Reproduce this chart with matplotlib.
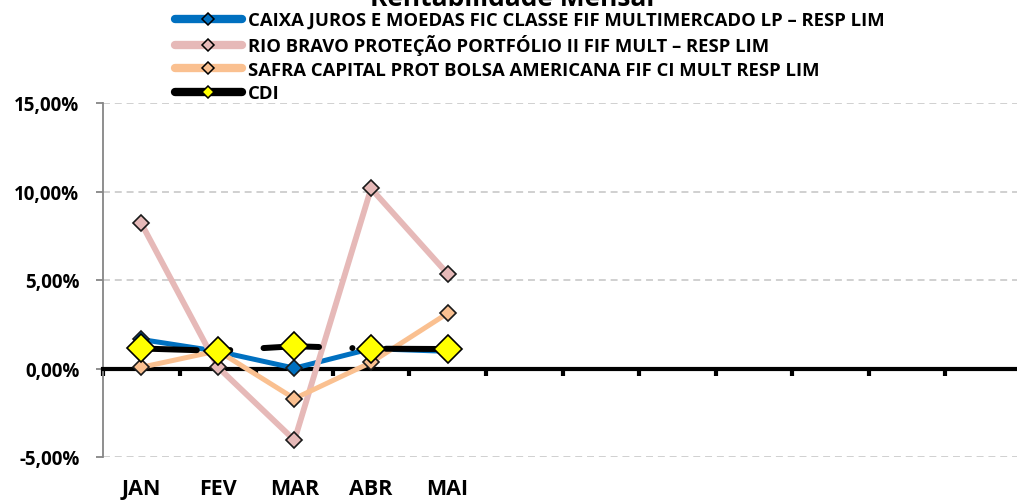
import matplotlib.pyplot as plt
import numpy as np
from matplotlib.lines import Line2D
from matplotlib.ticker import FuncFormatter, MultipleLocator, FixedLocator

plt.rcParams['font.family'] = ['Open Sans', 'DejaVu Sans']
plt.rcParams['font.weight'] = 'bold'
plt.rcParams['lines.scale_dashes'] = False

# dados (rentabilidade mensal, %)
meses = ['JAN', 'FEV', 'MAR', 'ABR', 'MAI', '', '', '', '', '', '', '']
caixa = [1.64, 0.97, 0.02, 1.12, 0.97]
rio_bravo = [8.2, 0.08, -4.05, 10.17, 5.35]
safra = [0.07, 1.0, -1.7, 0.34, 3.12]
cdi = [1.13, 1.0, 1.26, 1.12, 1.10]

nomes = ['CAIXA JUROS E MOEDAS FIC CLASSE FIF MULTIMERCADO LP – RESP LIM',
         'RIO BRAVO PROTEÇÃO PORTFÓLIO II FIF MULT – RESP LIM',
         'SAFRA CAPITAL PROT BOLSA AMERICANA FIF CI MULT RESP LIM',
         'CDI']
cores = ['#0070C0', '#E6B9B8', '#FAC090', '#000000']

W, H = 1017, 502
fig = plt.figure(figsize=(W / 100, H / 100), dpi=100)
ax = fig.add_axes([103 / W, (H - 458) / H, (1022 - 103) / W, (458 - 104) / H])

x = np.arange(len(caixa))
series = [caixa, rio_bravo, safra]
for vals, cor, lw in zip(series, cores[:3], [3.6, 4.2, 3.6]):
    ax.plot(x, vals, color=cor, lw=lw, marker='D', ms=8, mfc=cor,
            mec='#1a1a1a', mew=1.2, zorder=4, solid_capstyle='round')

ax.plot(x, cdi, color='black', lw=4.3, dashes=(40, 24, 0.1, 24),
        dash_capstyle='round', marker='D', ms=14.5, mfc='#FFFF00',
        mec='black', mew=1.2, zorder=5)

ax.set_xlim(-0.5, len(meses) - 0.5)
ax.set_ylim(-5, 15)

# eixo x no zero
for s in ['top', 'right']:
    ax.spines[s].set_visible(False)
ax.spines['bottom'].set_position(('data', 0))
ax.spines['bottom'].set_linewidth(3)
ax.spines['bottom'].set_zorder(3)
ax.spines['left'].set_color('#868686')
ax.spines['left'].set_linewidth(1.3)

ax.xaxis.set_major_locator(FixedLocator(np.arange(len(meses))))
ax.set_xticklabels(meses, fontsize=15.5)
ax.xaxis.set_minor_locator(FixedLocator(np.arange(len(meses) + 1) - 0.5))
ax.tick_params(axis='x', which='major', length=0, pad=79)
ax.tick_params(axis='x', which='minor', length=5, width=3, color='black',
               direction='out')

ax.yaxis.set_major_locator(MultipleLocator(5))
ax.yaxis.set_major_formatter(FuncFormatter(
    lambda v, p: ('%.2f%%' % v).replace('.', ',')))
ax.tick_params(axis='y', length=5, width=1.3, color='#868686',
               labelsize=13.5, pad=12)
ax.yaxis.grid(True, linestyle=(0, (5, 3.5)), color='#C8C8C8', lw=1.2)
ax.set_axisbelow(True)

# legenda
handles = []
for i, cor in enumerate(cores):
    mfc = '#FFFF00' if i == 3 else cor
    handles.append(Line2D([], [], color=cor, lw=6, marker='D', ms=6,
                          mfc=mfc, mec='black', mew=1.1,
                          solid_capstyle='round'))
fig.legend(handles, nomes, loc='upper left',
           bbox_to_anchor=(175 / W, 1 - 12 / H), frameon=False,
           fontsize=13.3, handlelength=3.6, handletextpad=0.35,
           labelspacing=0.29, borderpad=0, borderaxespad=0)

fig.text(512 / W, 1 - 6 / H, 'Rentabilidade Mensal', ha='center',
         va='baseline', fontsize=19, fontweight='bold')

fig.savefig('out.png', dpi=100)
